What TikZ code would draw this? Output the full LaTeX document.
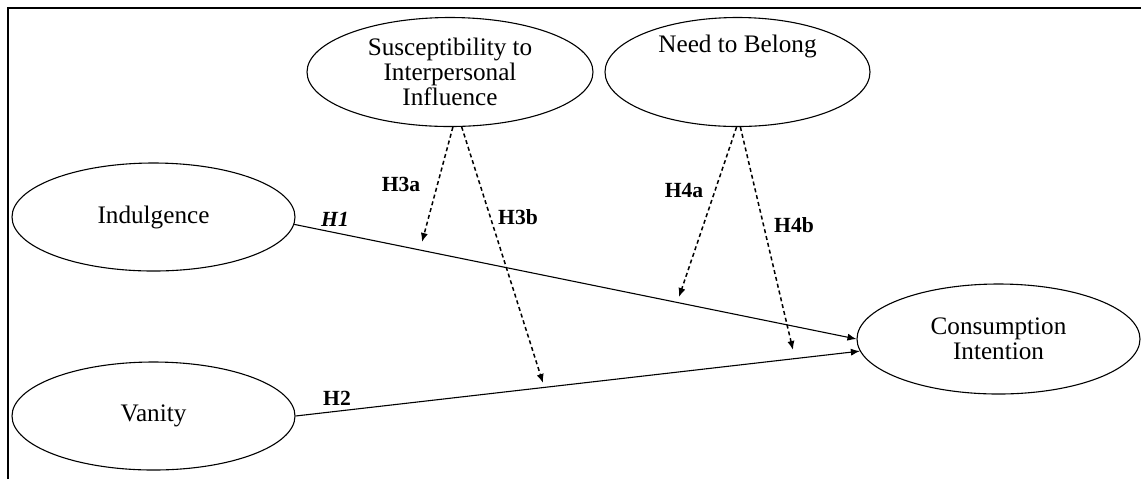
\documentclass[tikz,border=0pt]{standalone}
\usepackage{fontspec}
\setmainfont{Liberation Serif}
\usepackage{tikz}
\usetikzlibrary{positioning}
\usetikzlibrary{arrows.meta,shapes.geometric}
\tikzset{>={Latex[length=4.5pt,width=3.6pt]}}
\tikzset{
  ctext/.style={font=\fontsize{12.6}{12.4}\selectfont},
  construct/.style={ellipse,draw,line width=0.55pt,inner sep=0pt,align=center,ctext},
  hyp/.style={font=\fontsize{10.8}{12}\selectfont\bfseries},
  path/.style={->,line width=0.55pt},
  moderate/.style={->,dash pattern=on 2pt off 1.5pt,line width=0.75pt}
}

\begin{document}
\begin{tikzpicture}[x=0.5pt,y=-0.5pt]
\useasboundingbox (0,0) rectangle (1141,479);

% Frame
\draw[line width=1pt] (8,479) -- (8,8) -- (1141,8);

% Moderators
\node[construct,minimum width=143pt,minimum height=54.5pt] (sii) at (450,72)
  {Susceptibility to\\Interpersonal\\Influence};
\node[construct,minimum width=132.5pt,minimum height=54.5pt] (ntb) at (737.5,72) {};
\node[ctext] (ntbtext) at (737.5,46) {Need to Belong};

% Antecedents
\node[construct,minimum width=141.5pt,minimum height=54pt] (ind) at (153.5,217) {Indulgence};
\node[construct,minimum width=141.5pt,minimum height=54pt] (van) at (153.5,416) {Vanity};

% Outcome
\node[construct,minimum width=141.5pt,minimum height=55pt] (ci) at (998.5,339)
  {Consumption\\Intention};

% Direct effects
\draw[path] (ind.-3) -- (ci.west);
\node[hyp] (h1) at (335,219) {\itshape H1};

\draw[path] (van.east) -- (ci.185);
\node[hyp] (h2) at (337,398) {H2};

% Moderating effects of susceptibility
\coordinate (m3a) at (422,242);
\coordinate (m3b) at (543,383);
\draw[moderate] (sii.-87) -- (m3a);
\draw[moderate] (sii.-78) -- (m3b);
\node[hyp] (h3a) at (401,184) {H3a};
\node[hyp] (h3b) at (518,217) {H3b};

% Moderating effects of need to belong
\coordinate (m4a) at (679,297);
\coordinate (m4b) at (793,350);
\draw[moderate] (ntb.-91) -- (m4a);
\draw[moderate] (ntb.-87) -- (m4b);
\node[hyp] (h4a) at (684,190) {H4a};
\node[hyp] (h4b) at (794,225) {H4b};

\end{tikzpicture}
\end{document}
